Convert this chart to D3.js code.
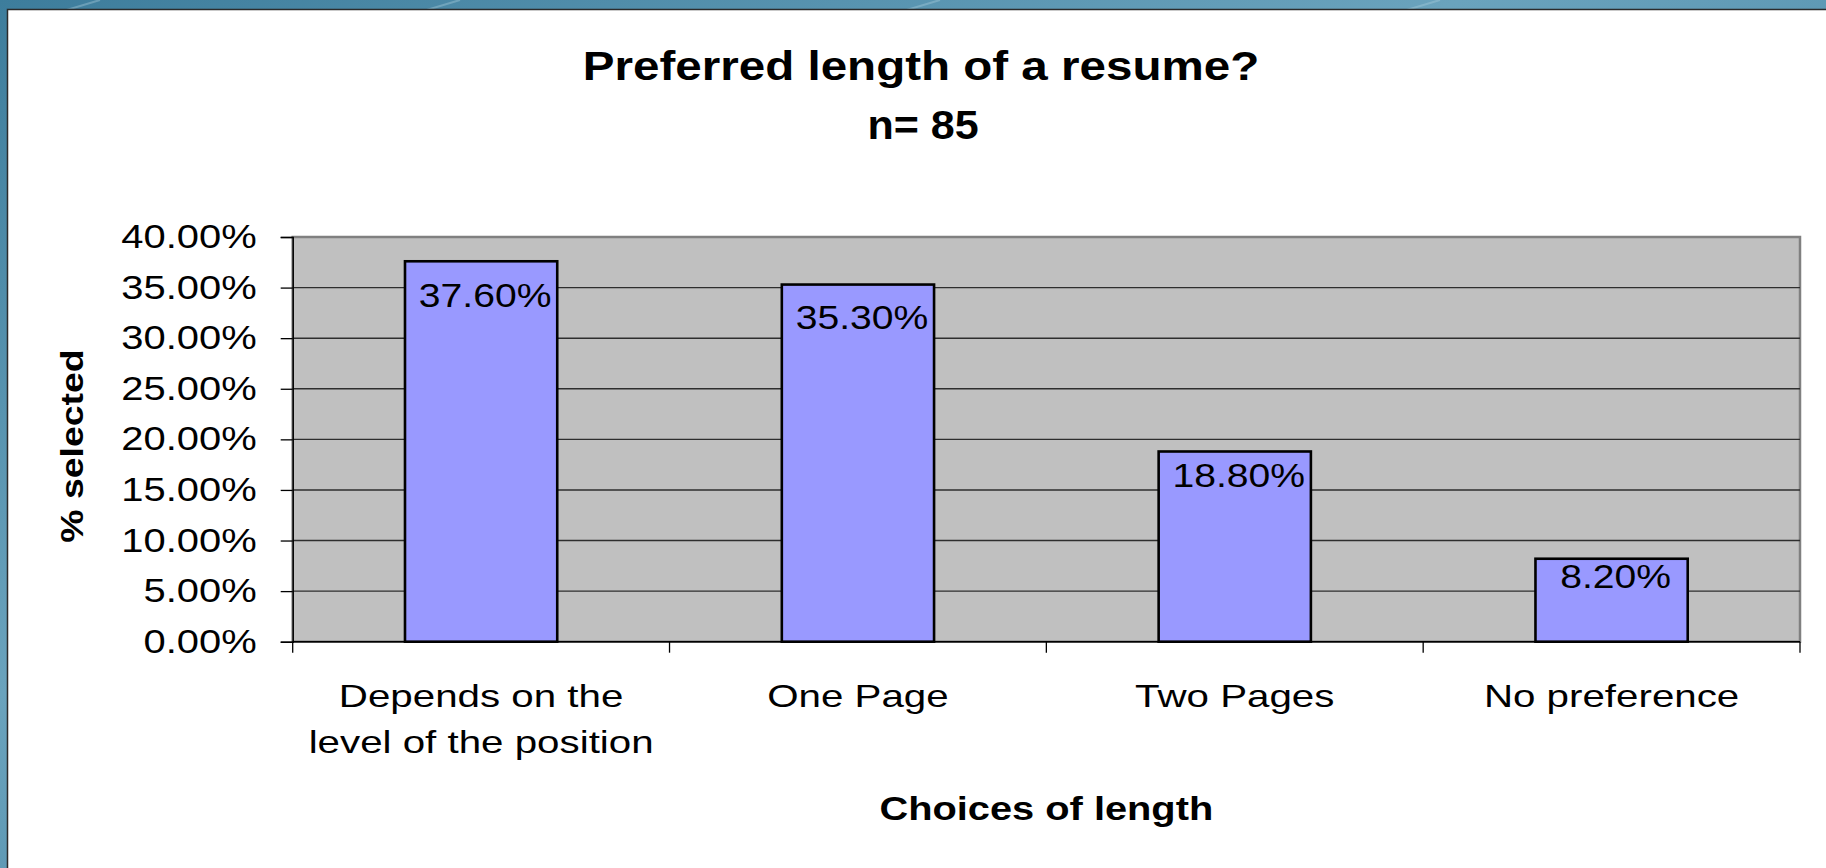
<!DOCTYPE html>
<html>
<head>
<meta charset="utf-8">
<script src="https://cdn.jsdelivr.net/npm/d3@7"></script>
<style>
  html, body { margin: 0; padding: 0; background: #5a93ae; }
  svg { display: block; }
  text { font-family: Arial, 'Liberation Sans', sans-serif; fill: #000; }
</style>
</head>
<body>
<svg id="svg"></svg>
<script>
// chart data
const categories = ['Depends on the\nlevel of the position', 'One Page', 'Two Pages', 'No preference']
const percentSelected = [0.376, 0.353, 0.188, 0.082]
const valueLabels = ['37.60%', '35.30%', '18.80%', '8.20%']
const yTicks = [0, 0.05, 0.10, 0.15, 0.20, 0.25, 0.30, 0.35, 0.40]
const chartTitle = 'Preferred length of a resume?'
const chartSubtitle = 'n= 85'
const xTitle = 'Choices of length'
const yTitle = '% selected'

const W = 1826, H = 868

const svg = d3.select('#svg')
  .attr('width', W)
  .attr('height', H)

// the source picture has wide glyphs, so text gets stretched sideways
function placeText (sel, x, y, sx, rot) {
  sel.attr('transform', 'translate(' + x + ',' + y + ')' + (rot ? ' rotate(' + rot + ')' : '') + ' scale(' + sx + ',1)')
}

// blue textured slide background
const defs = svg.append('defs')
const grad = defs.append('linearGradient')
  .attr('id', 'bg')
  .attr('x1', '0%').attr('y1', '0%')
  .attr('x2', '100%').attr('y2', '100%')
grad.append('stop').attr('offset', '0%').attr('stop-color', '#3d7d9c')
grad.append('stop').attr('offset', '40%').attr('stop-color', '#6aa3bd')
grad.append('stop').attr('offset', '70%').attr('stop-color', '#4a88a6')
grad.append('stop').attr('offset', '100%').attr('stop-color', '#7fb2c9')

svg.append('rect')
  .attr('width', W).attr('height', H)
  .attr('fill', 'url(#bg)')

const streaks = [60, 420, 900, 1400]
svg.append('g').selectAll('line')
  .data(streaks)
  .enter()
  .append('line')
  .attr('x1', d => d).attr('y1', 12)
  .attr('x2', d => d + 40).attr('y2', 0)
  .attr('stroke', '#a9cddc')
  .attr('stroke-width', 2)
  .attr('opacity', 0.4)

// white chart panel
svg.append('rect')
  .attr('x', 7.5).attr('y', 9.5)
  .attr('width', W).attr('height', H)
  .attr('fill', '#ffffff')
  .attr('stroke', '#2b2b2b')
  .attr('stroke-width', 1.5)

const plot = { left: 292.7, right: 1800, top: 237, bottom: 641.7 }

const yScale = d3.scaleLinear()
  .domain([0, 0.40])
  .range([plot.bottom, plot.top])

// band scale for the bars, and one without padding for the category ticks
const xScale = d3.scaleBand()
  .domain(categories)
  .range([plot.left, plot.right])
  .paddingInner(0.596)
  .paddingOuter(0.298)

const xCells = d3.scaleBand()
  .domain(categories)
  .range([plot.left, plot.right])
  .padding(0)

// plot area
svg.append('rect')
  .attr('x', plot.left).attr('y', plot.top)
  .attr('width', plot.right - plot.left)
  .attr('height', plot.bottom - plot.top)
  .attr('fill', '#c0c0c0')
  .attr('stroke', '#808080')
  .attr('stroke-width', 2.5)

// gridlines
svg.append('g')
  .selectAll('line')
  .data(yTicks.filter(d => d > 0 && d < 0.40))
  .enter()
  .append('line')
  .attr('x1', plot.left).attr('x2', plot.right)
  .attr('y1', d => yScale(d)).attr('y2', d => yScale(d))
  .attr('stroke', '#2e2e2e')
  .attr('stroke-width', 1.4)

// y axis
const yAxis = svg.append('g')
  .attr('transform', 'translate(' + plot.left + ',0)')
  .call(d3.axisLeft(yScale)
    .tickValues(yTicks)
    .tickFormat(d => (d * 100).toFixed(2) + '%')
    .tickSize(12)
    .tickPadding(24))
yAxis.select('.domain').attr('stroke', '#000').attr('stroke-width', 1.5)
yAxis.selectAll('.tick line').attr('stroke', '#000').attr('stroke-width', 1.3)
yAxis.selectAll('.tick text')
  .style('font-size', '33px')
  .attr('fill', '#000')
  .each(function () {
    const t = d3.select(this)
    const x = +t.attr('x')
    t.attr('x', 0)
    placeText(t, x, 0, 1.21)
  })

// x axis line and category dividers
svg.append('line')
  .attr('x1', plot.left).attr('x2', plot.right)
  .attr('y1', plot.bottom).attr('y2', plot.bottom)
  .attr('stroke', '#000').attr('stroke-width', 1.5)

const dividers = categories.map(c => xCells(c)).concat([xCells(categories[categories.length - 1]) + xCells.bandwidth()])
svg.append('g')
  .selectAll('line')
  .data(dividers)
  .enter()
  .append('line')
  .attr('x1', d => d).attr('x2', d => d)
  .attr('y1', plot.bottom).attr('y2', plot.bottom + 11)
  .attr('stroke', '#000').attr('stroke-width', 1.3)

// category labels
svg.append('g')
  .selectAll('text')
  .data(categories)
  .enter()
  .append('text')
  .attr('text-anchor', 'middle')
  .style('font-size', '32px')
  .each(function (d) {
    const t = d3.select(this)
    placeText(t, xCells(d) + xCells.bandwidth() / 2, 707, 1.26)
    t.selectAll('tspan')
      .data(d.split('\n'))
      .enter()
      .append('tspan')
      .attr('x', 0)
      .attr('y', (l, i) => i * 46)
      .text(l => l)
  })

// bars
svg.append('g')
  .selectAll('rect')
  .data(percentSelected)
  .enter()
  .append('rect')
  .attr('x', (d, i) => xScale(categories[i]))
  .attr('y', d => yScale(d))
  .attr('width', xScale.bandwidth())
  .attr('height', d => plot.bottom - yScale(d))
  .attr('fill', '#9999ff')
  .attr('stroke', '#000')
  .attr('stroke-width', 2.6)

// value labels just inside the top of each bar
svg.append('g')
  .selectAll('text')
  .data(percentSelected)
  .enter()
  .append('text')
  .attr('text-anchor', 'middle')
  .style('font-size', '34px')
  .text((d, i) => valueLabels[i])
  .each(function (d, i) {
    placeText(d3.select(this), xScale(categories[i]) + xScale.bandwidth() / 2 + 4, yScale(d * 0.945) + 25, 1.15)
  })

// titles
placeText(svg.append('text')
  .attr('text-anchor', 'middle')
  .style('font-size', '41px')
  .style('font-weight', 'bold')
  .text(chartTitle), 921, 80, 1.16)

placeText(svg.append('text')
  .attr('text-anchor', 'middle')
  .style('font-size', '41px')
  .style('font-weight', 'bold')
  .text(chartSubtitle), 923, 139, 1.05)

placeText(svg.append('text')
  .attr('text-anchor', 'middle')
  .style('font-size', '34px')
  .style('font-weight', 'bold')
  .text(xTitle), (plot.left + plot.right) / 2, 820, 1.17)

placeText(svg.append('text')
  .attr('text-anchor', 'middle')
  .style('font-size', '32px')
  .style('font-weight', 'bold')
  .text(yTitle), 82.7, 446, 1.17, -90)
</script>
</body>
</html>
